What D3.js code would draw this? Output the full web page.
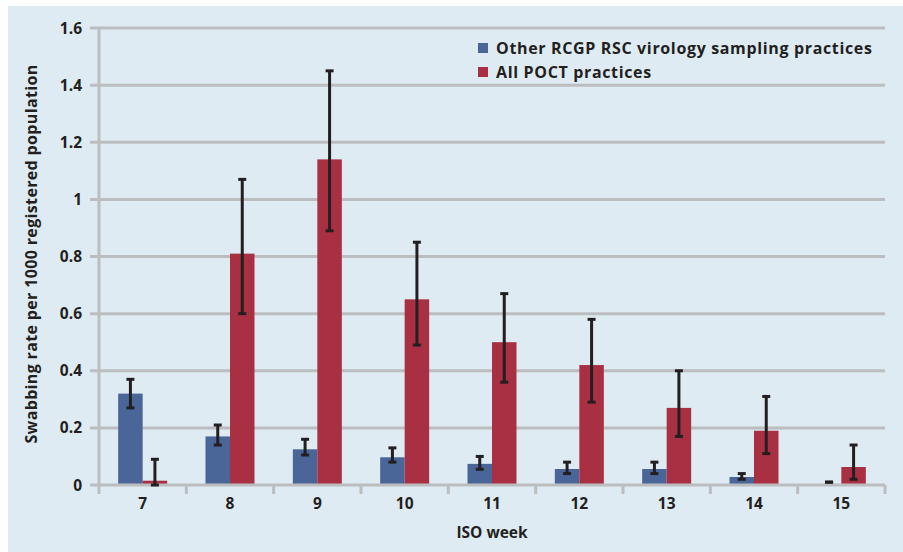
<!DOCTYPE html>
<html><head><meta charset="utf-8">
<script src="https://cdn.jsdelivr.net/npm/d3@7"></script>
<style>
html,body{margin:0;padding:0;background:#fff;}
text{font-family:"Open Sans","Liberation Sans",sans-serif;font-weight:700;fill:#231f20;}
</style></head>
<body>
<svg id="c" width="903" height="552"></svg>
<script>
const weeks = ["7","8","9","10","11","12","13","14","15"];
const seriesNames = ["Other RCGP RSC virology sampling practices","All POCT practices"];
const otherVals = [0.32,0.17,0.125,0.097,0.074,0.056,0.056,0.028,0.002];
const otherLow  = [0.27,0.14,0.105,0.08,0.055,0.04,0.04,0.02,0.01];
const otherHigh = [0.37,0.21,0.16,0.13,0.10,0.08,0.08,0.04,0.01];
const poctVals  = [0.015,0.81,1.14,0.65,0.50,0.42,0.27,0.19,0.063];
const poctLow   = [0.0,0.60,0.89,0.49,0.36,0.29,0.17,0.11,0.02];
const poctHigh  = [0.09,1.07,1.45,0.85,0.67,0.58,0.40,0.31,0.14];
const yTicks = [0,0.2,0.4,0.6,0.8,1,1.2,1.4,1.6];
const colors = ["#4a6699","#a93042"];

const svg = d3.select("#c");
svg.append("rect").attr("x",8).attr("y",6).attr("width",895).attr("height",546).attr("fill","#deebf2");

const L=99,R=885,T=28,B=485;
const x = d3.scaleBand().domain(weeks).range([L,R]).paddingInner(0).paddingOuter(0);
const y = d3.scaleLinear().domain([0,1.6]).range([B,T]);
const bw = 24.5;
const sub = d3.scaleBand().domain([0,1]).range([0,2*bw]);

const grid="#bcbdbf";
svg.append("g").selectAll("line").data(yTicks.slice(1)).join("line")
  .attr("x1",L-9).attr("x2",R).attr("y1",d=>y(d)).attr("y2",d=>y(d))
  .attr("stroke",grid).attr("stroke-width",3);

const series = [
  {vals:otherVals,lo:otherLow,hi:otherHigh},
  {vals:poctVals,lo:poctLow,hi:poctHigh}
];
series.forEach((s,si)=>{
  const g = svg.append("g");
  g.selectAll("rect").data(weeks).join("rect")
    .attr("x",(w)=>x(w)+x.bandwidth()/2-bw+sub(si))
    .attr("width",bw)
    .attr("y",(w,i)=>y(s.vals[i]))
    .attr("height",(w,i)=>B-y(s.vals[i]))
    .attr("fill",colors[si]);
});
svg.append("line").attr("x1",L-9).attr("x2",R).attr("y1",B).attr("y2",B).attr("stroke",grid).attr("stroke-width",3);
svg.append("line").attr("x1",L).attr("x2",L).attr("y1",T).attr("y2",B+9).attr("stroke",grid).attr("stroke-width",3);
const bounds = weeks.map(w=>x(w)+x.bandwidth());
svg.append("g").selectAll("line").data(bounds).join("line")
  .attr("x1",d=>d).attr("x2",d=>d).attr("y1",B).attr("y2",B+9).attr("stroke",grid).attr("stroke-width",3);

series.forEach((s,si)=>{
  const g = svg.append("g");
  weeks.forEach((w,i)=>{
    const cx = x(w)+x.bandwidth()/2-bw+sub(si)+bw/2;
    const y1=y(s.lo[i]), y2=y(s.hi[i]);
    if (y1!==y2) g.append("line").attr("x1",cx).attr("x2",cx).attr("y1",y1).attr("y2",y2).attr("stroke","#231f20").attr("stroke-width",3);
    [y1,y2].forEach(yy=>{
      g.append("line").attr("x1",cx-4).attr("x2",cx+4).attr("y1",yy).attr("y2",yy).attr("stroke","#231f20").attr("stroke-width",3);
    });
  });
});

svg.append("g").selectAll("text").data(yTicks).join("text")
  .attr("x",82).attr("y",d=>y(d)+5.5).attr("text-anchor","end").attr("font-size",15.5)
  .text(d=>d3.format("~g")(d));
svg.append("g").selectAll("text").data(weeks).join("text")
  .attr("x",w=>x(w)+x.bandwidth()/2).attr("y",509).attr("text-anchor","middle").attr("font-size",15.5)
  .text(d=>d);
svg.append("text").attr("x",492).attr("y",538).attr("text-anchor","middle").attr("font-size",15.5).text("ISO week");
svg.append("text").attr("transform","translate(37,254) rotate(-90)").attr("text-anchor","middle")
  .attr("font-size",16).attr("letter-spacing",0.35).text("Swabbing rate per 1000 registered population");

const lg = svg.append("g");
seriesNames.forEach((n,i)=>{
  lg.append("rect").attr("x",478).attr("y",43+i*24).attr("width",10).attr("height",10).attr("fill",colors[i]);
  lg.append("text").attr("x",496).attr("y",54+i*24).attr("font-size",16).attr("letter-spacing",0.65).text(n);
});
</script>
</body></html>
